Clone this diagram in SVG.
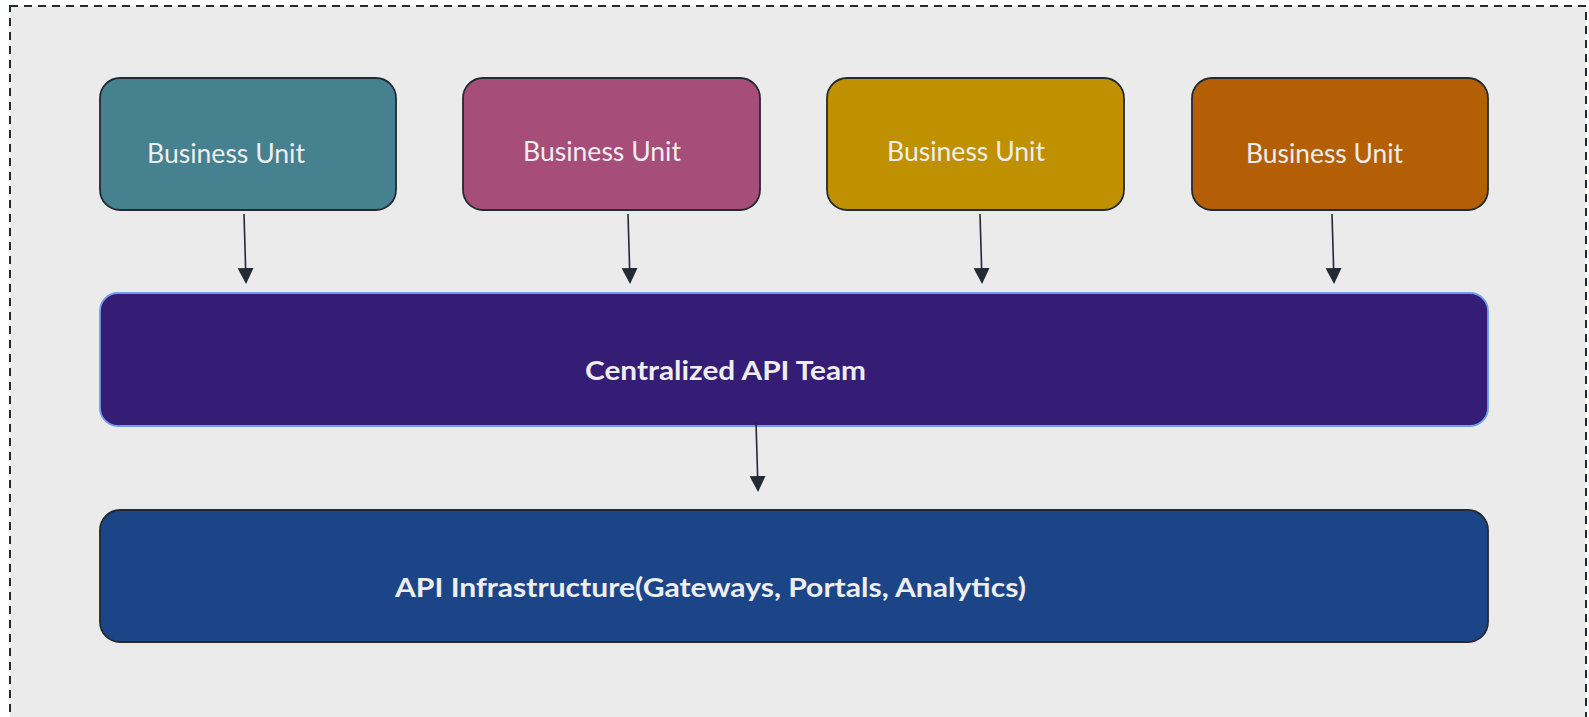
<svg xmlns="http://www.w3.org/2000/svg" width="1589" height="717" viewBox="0 0 1589 717">
  <style>
    .bu { stroke: #232a33; stroke-width: 1.8; }
    .lbl { font-family: Lato, "Noto Sans", "Liberation Sans", sans-serif; font-size: 27px; fill: #eeeeee; }
    .bold { font-weight: bold; }
    .conn { stroke: #232a33; stroke-width: 1.6; fill: none; }
  </style>
  <defs>
    <marker id="arrow" viewBox="0 0 16 16" markerWidth="16" markerHeight="16" markerUnits="userSpaceOnUse" refX="13" refY="8" orient="auto">
      <path d="M0,0 L16,8 L0,16 Z" fill="#232a33"/>
    </marker>
  </defs>
  <rect x="0" y="0" width="1589" height="717" fill="#ffffff"/>
  <rect id="frame" x="10" y="6" width="1576" height="730" fill="#ebebeb" stroke="#232a33" stroke-width="2" stroke-dasharray="8 6"/>

  <g id="bu1">
    <rect class="bu" x="100" y="78" width="296" height="132" rx="20" fill="#45818e"/>
    <text class="lbl" x="147" y="163" textLength="158" lengthAdjust="spacingAndGlyphs">Business Unit</text>
  </g>
  <g id="bu2">
    <rect class="bu" x="463" y="78" width="297" height="132" rx="20" fill="#a64d79"/>
    <text class="lbl" x="523" y="161" textLength="158" lengthAdjust="spacingAndGlyphs">Business Unit</text>
  </g>
  <g id="bu3">
    <rect class="bu" x="827" y="78" width="297" height="132" rx="20" fill="#bf9000"/>
    <text class="lbl" x="887" y="161" textLength="158" lengthAdjust="spacingAndGlyphs">Business Unit</text>
  </g>
  <g id="bu4">
    <rect class="bu" x="1192" y="78" width="296" height="132" rx="20" fill="#b45f06"/>
    <text class="lbl" x="1246" y="163" textLength="157" lengthAdjust="spacingAndGlyphs">Business Unit</text>
  </g>

  <g id="central">
    <rect x="100" y="293" width="1388" height="133" rx="18" fill="#351c75" stroke="#6d9eeb" stroke-width="1.8"/>
    <text class="lbl bold" x="585" y="380" textLength="281" lengthAdjust="spacingAndGlyphs">Centralized API Team</text>
  </g>

  <g id="infra">
    <rect class="bu" x="100" y="510" width="1388" height="132" rx="20" fill="#1c4587"/>
    <text class="lbl bold" x="395" y="597" textLength="631" lengthAdjust="spacingAndGlyphs">API Infrastructure(Gateways, Portals, Analytics)</text>
  </g>

  <g id="connectors">
    <line class="conn" x1="244" y1="214" x2="246" y2="281" marker-end="url(#arrow)"/>
    <line class="conn" x1="628" y1="214" x2="630" y2="281" marker-end="url(#arrow)"/>
    <line class="conn" x1="980" y1="214" x2="982" y2="281" marker-end="url(#arrow)"/>
    <line class="conn" x1="1332" y1="214" x2="1334" y2="281" marker-end="url(#arrow)"/>
    <line class="conn" x1="756" y1="422" x2="758" y2="489" marker-end="url(#arrow)"/>
  </g>
</svg>
